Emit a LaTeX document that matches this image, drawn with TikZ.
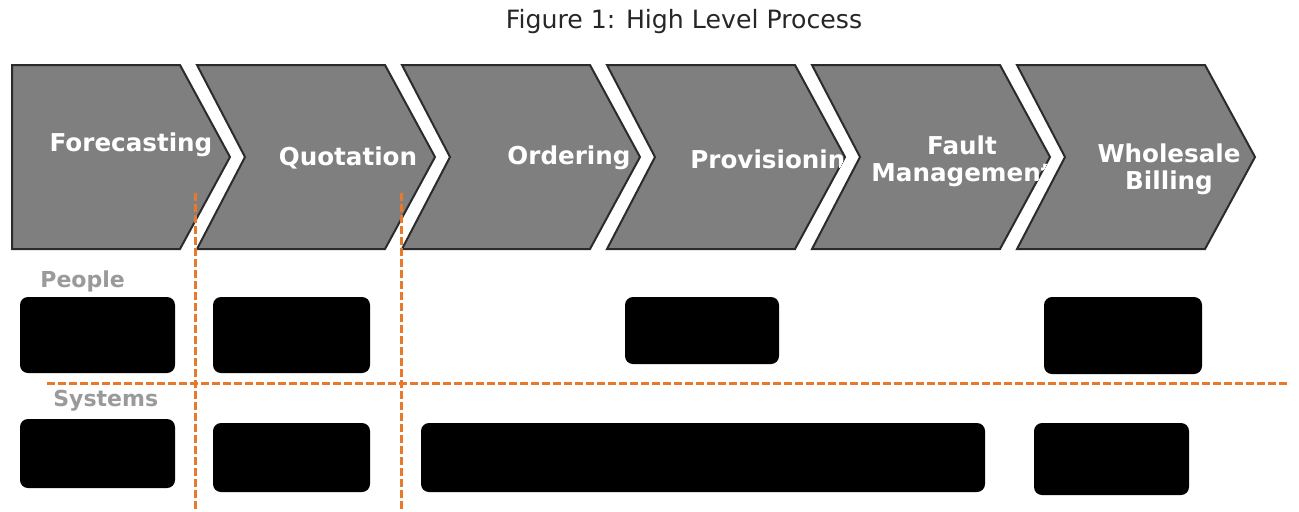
\documentclass[tikz,border=0pt]{standalone}
\usepackage{fontspec}
\setmainfont{DejaVu Sans}
\definecolor{chevgray}{HTML}{7F7F7F}
\definecolor{chevedge}{HTML}{2B2B2B}
\definecolor{dashorange}{HTML}{E8792A}
\definecolor{labelgray}{HTML}{9A9A9A}
\tikzset{
  chev/.style={fill=chevgray, draw=chevedge, line width=1pt, line join=miter},
  chevtext/.style={text=white, font=\bfseries\fontsize{12.3}{13.5}\selectfont, align=center, inner sep=0pt},
  redact/.style={fill=black, rounded corners=4pt},
  divider/.style={draw=dashorange, line width=1.5pt, dash pattern=on 4pt off 1.5pt},
  rowlabel/.style={text=labelgray, font=\bfseries\fontsize{11}{13}\selectfont, anchor=west, inner sep=0pt},
  titletext/.style={text=black!85, font=\fontsize{12.6}{14}\selectfont, inner sep=0pt}
}
\begin{document}
\begin{tikzpicture}[x=0.5pt, y=-0.5pt]
\useasboundingbox (0,0) rectangle (1299,511);
\fill[white] (0,0) rectangle (1299,511);

\node[titletext] (title) at (684,22) {Figure 1: High Level Process};

% chevron 1
\path[chev] (12,65) -- (180,65) -- (230,157) -- (180,249) -- (12,249) -- cycle;
\begin{scope}
\clip (12,65) -- (180,65) -- (230,157) -- (180,249) -- (12,249) -- cycle;
\node[chevtext] (forecasting) at (131,145) {Forecasting};
\end{scope}
% chevron 2
\path[chev] (197,65) -- (385,65) -- (435,157) -- (385,249) -- (197,249) -- (245,157) -- cycle;
\begin{scope}
\clip (197,65) -- (385,65) -- (435,157) -- (385,249) -- (197,249) -- (245,157) -- cycle;
\node[chevtext] (quotation) at (348,158) {Quotation};
\end{scope}
% chevron 3
\path[chev] (402,65) -- (590,65) -- (640,157) -- (590,249) -- (402,249) -- (450,157) -- cycle;
\begin{scope}
\clip (402,65) -- (590,65) -- (640,157) -- (590,249) -- (402,249) -- (450,157) -- cycle;
\node[chevtext] (ordering) at (569,158) {Ordering};
\end{scope}
% chevron 4
\path[chev] (607,65) -- (795,65) -- (845,157) -- (795,249) -- (607,249) -- (655,157) -- cycle;
\begin{scope}
\clip (607,65) -- (795,65) -- (845,157) -- (795,249) -- (607,249) -- (655,157) -- cycle;
\node[chevtext, anchor=west] (provisioning) at (690,162) {Provisioning};
\end{scope}
% chevron 5
\path[chev] (812,65) -- (1000,65) -- (1050,157) -- (1000,249) -- (812,249) -- (860,157) -- cycle;
\begin{scope}
\clip (812,65) -- (1000,65) -- (1050,157) -- (1000,249) -- (812,249) -- (860,157) -- cycle;
\node[chevtext] (fault) at (962,161) {Fault\\Management};
\end{scope}
% chevron 6
\path[chev] (1017,65) -- (1205,65) -- (1255,157) -- (1205,249) -- (1017,249) -- (1065,157) -- cycle;
\begin{scope}
\clip (1017,65) -- (1205,65) -- (1255,157) -- (1205,249) -- (1017,249) -- (1065,157) -- cycle;
\node[chevtext] (billing) at (1169,169) {Wholesale\\Billing};
\end{scope}

% row labels
\node[rowlabel] (people) at (40,281) {People};
\node[rowlabel] (systems) at (53,401) {Systems};

% redacted boxes: people row
\path[redact] (20,297) rectangle (175,373);
\path[redact] (213,297) rectangle (370,373);
\path[redact] (625,297) rectangle (779,364);
\path[redact] (1044,297) rectangle (1202,374);
% redacted boxes: systems row
\path[redact] (20,419) rectangle (175,488);
\path[redact] (213,423) rectangle (370,492);
\path[redact] (421,423) rectangle (985,492);
\path[redact] (1034,423) rectangle (1189,495);

% dividers
\coordinate (hl) at (47,383);
\coordinate (hr) at (1289,383);
\coordinate (v1t) at (195,193);
\coordinate (v1b) at (195,511);
\coordinate (v2t) at (401,193);
\coordinate (v2b) at (401,511);
\draw[divider] (hl) -- (hr);
\draw[divider] (v1t) -- (v1b);
\draw[divider] (v2t) -- (v2b);
\end{tikzpicture}
\end{document}
